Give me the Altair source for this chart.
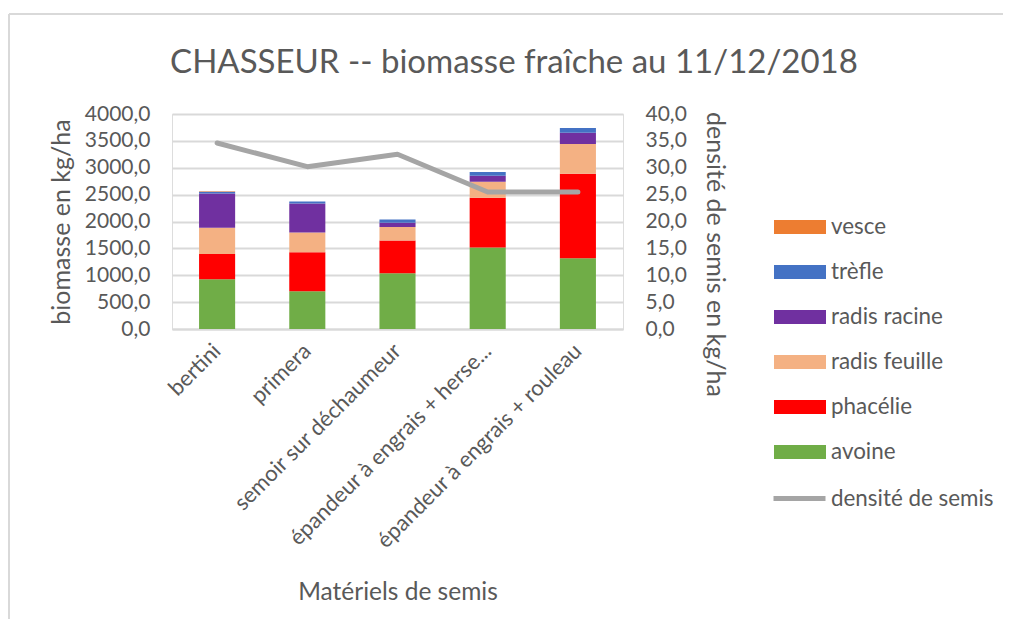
import altair as alt
import pandas as pd

title_text = "CHASSEUR -- biomasse fraîche au 11/12/2018"
categories = ["bertini", "primera", "semoir sur déchaumeur",
              "épandeur à engrais + herse...", "épandeur à engrais + rouleau"]
species = ["vesce", "trèfle", "radis racine", "radis feuille", "phacélie", "avoine"]
colors = ["#ED7D31", "#4472C4", "#7030A0", "#F4B183", "#FF0000", "#70AD47"]

avoine = [926, 702, 1038, 1517, 1317]
phacelie = [471, 727, 609, 924, 1571]
radis_feuille = [485, 367, 253, 298, 553]
radis_racine = [641, 540, 75, 112, 211]
trefle = [30, 37, 63, 69, 88]
vesce = [12, 0, 0, 0, 0]
densite = [34.6, 30.2, 32.5, 25.5, 25.5]

series = {"avoine": avoine, "phacélie": phacelie, "radis feuille": radis_feuille,
          "radis racine": radis_racine, "trèfle": trefle, "vesce": vesce}
stack_rank = {"avoine": 0, "phacélie": 1, "radis feuille": 2,
              "radis racine": 3, "trèfle": 4, "vesce": 5}

rows = []
for sp, vals in series.items():
    for c, v in zip(categories, vals):
        rows.append({"cat": c, "espece": sp, "val": v, "rank": stack_rank[sp]})
bars_df = pd.DataFrame(rows)
line_df = pd.DataFrame({"cat": categories, "dens": densite, "serie": ["densité de semis"] * 5})

FONT = "Lato"
TXT = "#595959"
GRID = "#D9D9D9"

xscale = alt.Scale(domain=categories, paddingInner=0.6, paddingOuter=0.3)
label_expr = "replace(format(datum.value, '.1f'), '.', ',')"

xenc = alt.X("cat:N", scale=xscale, sort=categories,
             axis=alt.Axis(title="Matériels de semis", labelAngle=-45, labelAlign="right",
                           labelBaseline="middle", labelFontSize=22, labelColor=TXT,
                           labelFont=FONT, titleFont=FONT, titleFontSize=24.5,
                           titleColor=TXT, titleFontWeight="normal", ticks=False,
                           domainColor=GRID, domainWidth=2, labelPadding=18,
                           titleBaseline="middle", titleY=263, labelLimit=400))

bars = alt.Chart(bars_df).mark_bar().encode(
    x=xenc,
    y=alt.Y("val:Q", stack="zero",
            scale=alt.Scale(domain=[0, 4000], nice=False),
            axis=alt.Axis(title="biomasse en kg/ha", values=list(range(0, 4001, 500)),
                          labelExpr=label_expr, labelFontSize=21, labelColor=TXT,
                          labelFont=FONT, titleFont=FONT, titleFontSize=25,
                          titleColor=TXT, titleFontWeight="normal", ticks=False,
                          domain=False, gridColor=GRID, gridWidth=2,
                          labelPadding=22, titlePadding=10)),
    color=alt.Color("espece:N",
                    scale=alt.Scale(domain=species, range=colors),
                    legend=alt.Legend(title=None, orient="none", legendX=615, legendY=100,
                                      symbolType="M-2,-0.54H2V0.54H-2Z", symbolSize=676,
                                      symbolStrokeWidth=0, labelFont=FONT, labelFontSize=22.4,
                                      labelColor=TXT, labelOffset=18, rowPadding=20,
                                      padding=0, labelLimit=300)),
    order=alt.Order("rank:Q", sort="ascending"),
)

line = alt.Chart(line_df).mark_line(strokeWidth=5, strokeCap="round", strokeJoin="round").encode(
    x=alt.X("cat:N", scale=xscale, sort=categories),
    y=alt.Y("dens:Q", scale=alt.Scale(domain=[0, 40], nice=False),
            axis=alt.Axis(title="densité de semis en kg/ha", orient="right",
                          values=list(range(0, 41, 5)), labelExpr=label_expr,
                          labelFontSize=21, labelColor=TXT, labelFont=FONT,
                          titleFont=FONT, titleFontSize=25, titleColor=TXT,
                          titleFontWeight="normal", ticks=False, domain=False,
                          grid=False, labelPadding=22, titlePadding=15, titleY=140)),
    stroke=alt.Stroke("serie:N", scale=alt.Scale(domain=["densité de semis"], range=["#A5A5A5"]),
                      legend=alt.Legend(title=None, orient="none", legendX=612, legendY=369,
                                        symbolType="M-2,0H2", symbolSize=676,
                                        symbolStrokeWidth=5, labelFont=FONT, labelFontSize=22.4,
                                        labelColor=TXT, labelOffset=16, padding=0,
                                        labelLimit=300)),
)

title = alt.Chart(pd.DataFrame({"t": [title_text]})).mark_text(
    font=FONT, fontSize=33, color=TXT, align="center", baseline="alphabetic"
).encode(text="t:N", x=alt.value(342), y=alt.value(-41))

frame_left = alt.Chart(pd.DataFrame({"k": [0]})).mark_rule(color=GRID, strokeWidth=2).encode(
    x=alt.value(-163), y=alt.value(-100), y2=alt.value(520))
frame_top = alt.Chart(pd.DataFrame({"k": [0]})).mark_rule(color=GRID, strokeWidth=2).encode(
    x=alt.value(-163), x2=alt.value(840), y=alt.value(-100))

chart = alt.layer(bars, line, title, frame_left, frame_top).resolve_scale(
    y="independent", color="independent", stroke="independent"
).properties(
    width=451, height=215,
    autosize=alt.AutoSizeParams(type="none"),
    padding={"left": 164, "top": 106, "right": 380, "bottom": 290},
).configure_view(stroke=None).configure(background="white")

chart.save("out.html", embed_options={"renderer": "svg", "actions": False})
